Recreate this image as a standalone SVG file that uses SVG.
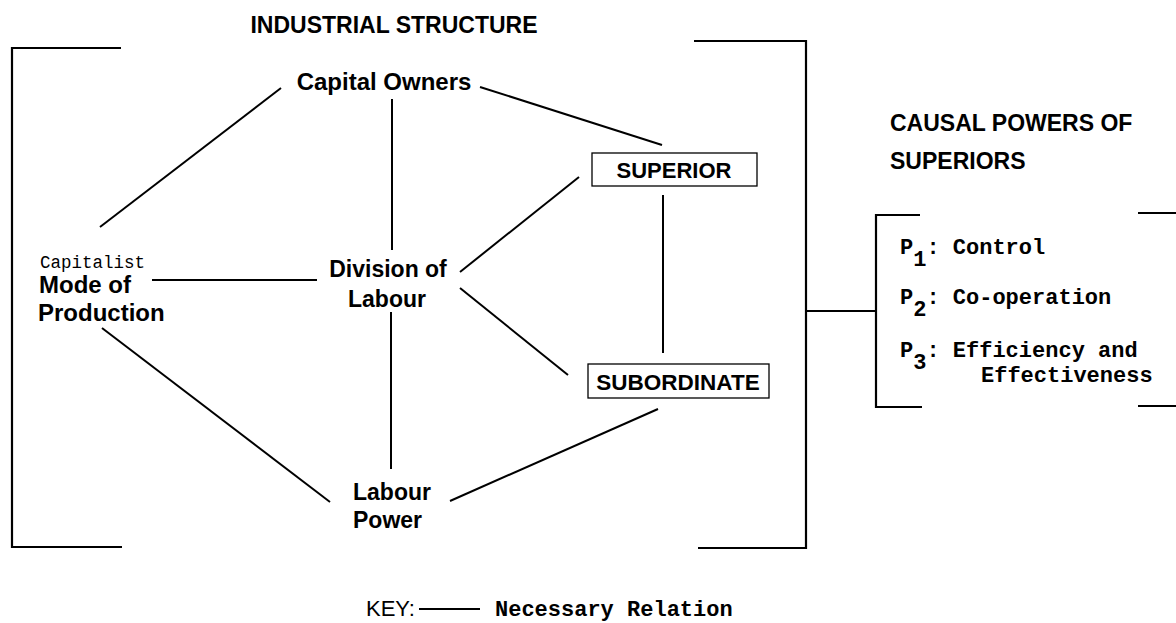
<svg xmlns="http://www.w3.org/2000/svg" width="1176" height="623" viewBox="0 0 1176 623">
<style>
.bg{fill:#fff}
.ln{stroke:#000;stroke-width:2;fill:none;stroke-linecap:butt}
.br{stroke:#000;stroke-width:2.2;fill:none}
.box{stroke:#000;stroke-width:1.3;fill:#fff}
.sb{font-family:"Liberation Sans",Arial,sans-serif;font-weight:bold;fill:#000}
.sr{font-family:"Liberation Sans",Arial,sans-serif;font-weight:normal;fill:#000}
.mr{font-family:"Liberation Mono","Courier New",monospace;font-weight:normal;fill:#000}
.mb{font-family:"Liberation Mono","Courier New",monospace;font-weight:bold;fill:#000}
</style>
<rect class="bg" x="0" y="0" width="1176" height="623"/>
<g id="brackets">
  <path class="br" d="M121,48 H12 V547 H122"/>
  <path class="br" d="M694,41 H806 V548 H698"/>
  <path class="br" d="M920,215 H876 V407 H922"/>
  <path class="br" d="M1138,213 H1176 M1138,406 H1176"/>
</g>
<g id="connectors">
  <line class="ln" x1="281" y1="88" x2="100" y2="227"/>
  <line class="ln" x1="392" y1="99" x2="392" y2="250"/>
  <line class="ln" x1="480" y1="87" x2="662" y2="145"/>
  <line class="ln" x1="152" y1="280" x2="317" y2="280"/>
  <line class="ln" x1="460" y1="272" x2="579" y2="177"/>
  <line class="ln" x1="460" y1="288" x2="568" y2="375"/>
  <line class="ln" x1="391" y1="312" x2="391" y2="469"/>
  <line class="ln" x1="102" y1="328" x2="330" y2="502"/>
  <line class="ln" x1="450" y1="501" x2="658" y2="409"/>
  <line class="ln" x1="663" y1="195" x2="663" y2="353"/>
  <line class="ln" x1="806" y1="311" x2="876" y2="311"/>
</g>
<g id="title">
  <text class="sb" x="394" y="33" font-size="23" text-anchor="middle">INDUSTRIAL STRUCTURE</text>
</g>
<g id="capital-owners">
  <text class="sb" x="384" y="90" font-size="24" text-anchor="middle">Capital Owners</text>
</g>
<g id="superior">
  <rect class="box" x="592" y="153" width="165" height="33"/>
  <text class="sb" x="674" y="178" font-size="22" text-anchor="middle">SUPERIOR</text>
</g>
<g id="subordinate">
  <rect class="box" x="588" y="364" width="181" height="34"/>
  <text class="sb" x="678" y="390" font-size="22.5" text-anchor="middle">SUBORDINATE</text>
</g>
<g id="mode-of-production">
  <text class="mr" x="40" y="268" font-size="17.5">Capitalist</text>
  <text class="sb" x="39" y="293" font-size="24">Mode of</text>
  <text class="sb" x="38" y="321" font-size="24">Production</text>
</g>
<g id="division-of-labour">
  <text class="sb" x="388" y="277" font-size="23" text-anchor="middle">Division of</text>
  <text class="sb" x="387" y="307" font-size="23" text-anchor="middle">Labour</text>
</g>
<g id="labour-power">
  <text class="sb" x="353" y="500" font-size="23">Labour</text>
  <text class="sb" x="353" y="528" font-size="23">Power</text>
</g>
<g id="causal-powers">
  <text class="sb" x="890" y="131" font-size="23">CAUSAL POWERS OF</text>
  <text class="sb" x="890" y="169" font-size="23">SUPERIORS</text>
</g>
<g id="powers-list">
  <text class="mb" x="900" y="254" font-size="22">P<tspan dy="12">1</tspan><tspan dy="-12">: Control</tspan></text>
  <text class="mb" x="900" y="304" font-size="22">P<tspan dy="12">2</tspan><tspan dy="-12">: Co-operation</tspan></text>
  <text class="mb" x="900" y="357" font-size="22">P<tspan dy="12">3</tspan><tspan dy="-12">: Efficiency and</tspan></text>
  <text class="mb" x="981" y="382" font-size="22">Effectiveness</text>
</g>
<g id="key">
  <text class="sr" x="366" y="616" font-size="22">KEY:</text>
  <line class="ln" x1="419" y1="609" x2="480" y2="609"/>
  <text class="mb" x="495" y="616" font-size="22">Necessary Relation</text>
</g>
</svg>
